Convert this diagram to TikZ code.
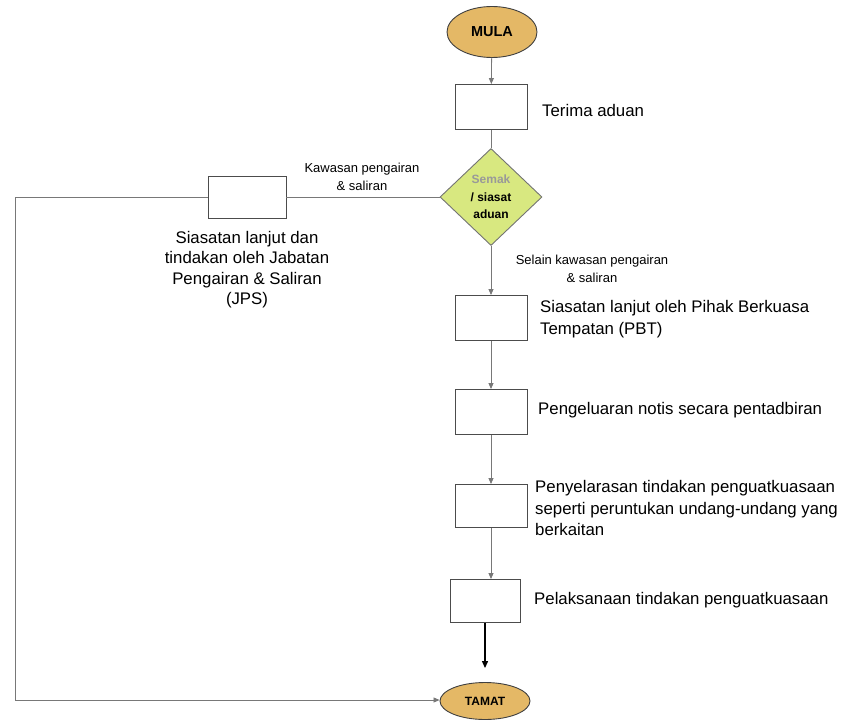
\documentclass[tikz,border=0pt]{standalone}
\usepackage{fontspec}
\setmainfont{Liberation Sans}
\usetikzlibrary{shapes.geometric,arrows.meta}
\definecolor{termfill}{RGB}{228,184,102}
\definecolor{decfill}{RGB}{216,232,128}
\definecolor{linegray}{RGB}{120,120,120}
\tikzset{
  term/.style={ellipse,draw=black!75,line width=0.9pt,fill=termfill,inner sep=0pt},
  procbox/.style={rectangle,draw=black!70,line width=0.9pt,fill=white,minimum width=72pt,minimum height=45pt,inner sep=0pt},
  decbox/.style={diamond,draw=black!55,line width=0.9pt,fill=decfill,minimum width=102pt,minimum height=97pt,inner sep=0pt,align=center,font=\bfseries\fontsize{12}{17.5}\selectfont},
  desc/.style={anchor=west,align=left,inner sep=0pt,font=\fontsize{16.8}{21.5}\selectfont},
  small/.style={align=center,inner sep=0pt,font=\fontsize{13}{18}\selectfont},
  conn/.style={draw=linegray,line width=0.8pt},
  arr/.style={conn,-{Triangle[length=6pt,width=5pt]}},
}
\begin{document}
\begin{tikzpicture}[x=1pt,y=-1pt]
\useasboundingbox (0,0) rectangle (851,725);
\node[term,minimum width=90pt,minimum height=51pt,font=\bfseries\fontsize{14.5}{16}\selectfont] (mula) at (492,32) {MULA};
\node[procbox] (b1) at (491,107) {};
\node[desc] (t1) at (542,110) {Terima aduan};
\node[decbox] (dec) at (491,197) {\textcolor{black!40}{Semak}\\/ siasat\\aduan};
\node[procbox,minimum width=78pt,minimum height=42pt] (jps) at (247,197) {};
\node[desc,anchor=north,align=center,font=\fontsize{16.8}{20.5}\selectfont] (tjps) at (247,231) {Siasatan lanjut dan\\tindakan oleh Jabatan\\Pengairan \& Saliran\\(JPS)};
\node[small] (lk) at (362,177) {Kawasan pengairan\\\& saliran};
\node[small] (ls) at (592,269) {Selain kawasan pengairan\\\& saliran};
\node[procbox] (b2) at (491,318) {};
\node[desc] (t2) at (540,319) {Siasatan lanjut oleh Pihak Berkuasa\\Tempatan (PBT)};
\node[procbox] (b3) at (491,412) {};
\node[desc] (t3) at (538,410) {Pengeluaran notis secara pentadbiran};
\node[procbox,minimum height=43pt] (b4) at (491,506) {};
\node[desc] (t4) at (535,508) {Penyelarasan tindakan penguatkuasaan\\seperti peruntukan undang-undang yang\\berkaitan};
\node[procbox,minimum width=70pt,minimum height=43pt] (b5) at (485,601) {};
\node[desc] (t5) at (534,600) {Pelaksanaan tindakan penguatkuasaan};
\node[term,minimum width=90pt,minimum height=37pt,font=\bfseries\fontsize{12}{14}\selectfont] (tamat) at (485,701) {TAMAT};
\coordinate (c1) at (15,197);
\coordinate (c2) at (15,700);
\draw[arr] (mula) -- (b1);
\draw[conn] (b1) -- (dec);
\draw[conn] (dec.west) -- (jps.east);
\draw[arr] (jps.west) -- (c1) -- (c2) -- (c2 -| tamat.west);
\draw[arr] (dec.south) -- (b2.north);
\draw[arr] (b2) -- (b3);
\draw[arr] (b3) -- (b4);
\draw[arr] (b4.south) -- (b4.south |- b5.north);
\draw[draw=black,line width=1.2pt,-{Triangle[length=7pt,width=6pt]},shorten >=14pt] (b5.south) -- (tamat.north);
\end{tikzpicture}
\end{document}
